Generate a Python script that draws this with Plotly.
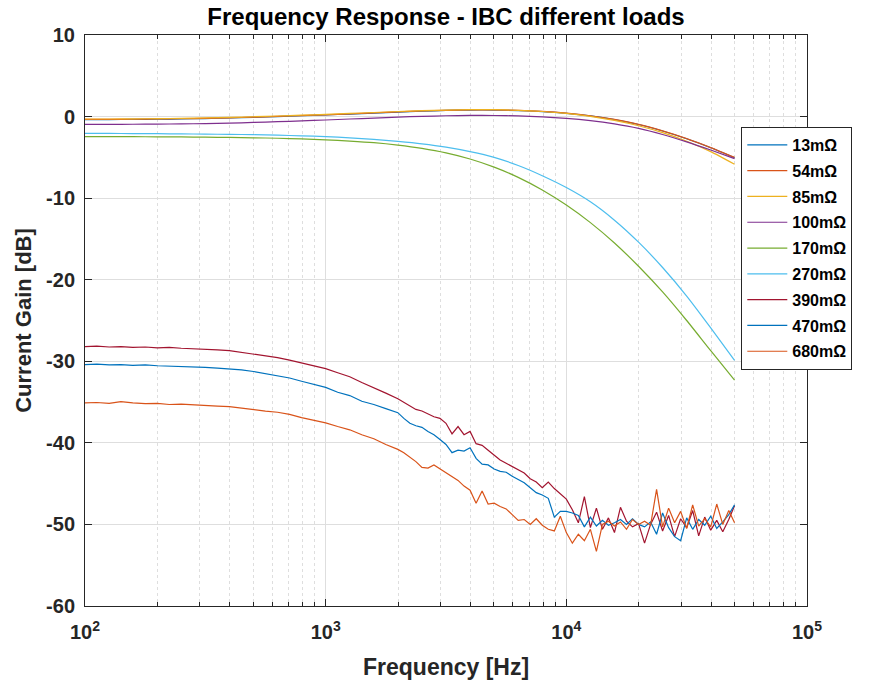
import plotly.graph_objects as go

# Frequency grid for the smooth (low-load-resistance) responses, Hz
SMOOTH_FREQ_HZ = [100, 126, 158, 200, 251, 316, 398, 501, 631, 794,
                  1000, 1259, 1585, 1995, 2512, 3162, 3981, 5012, 6310, 7943,
                  10000, 12589, 15849, 19953, 25119, 31623, 39811, 50000]

# Frequency grid for the noisy (high-load-resistance) responses, Hz
NOISY_FREQ_HZ = [100, 112, 126, 141, 158, 178, 200, 224, 251, 282,
                 316, 355, 398, 447, 501, 562, 631, 708, 794, 891,
                 1000, 1122, 1259, 1413, 1585, 1778,
                 1995, 2113, 2239, 2371, 2512, 2661, 2818, 2985, 3162, 3350,
                 3548, 3758, 3981, 4217, 4467, 4732, 5012, 5309, 5623, 5957,
                 6310, 6683, 7079, 7499, 7943, 8414, 8913, 9441, 10000, 10593,
                 11220, 11885, 12589, 13335, 14125, 14962, 15849, 16788, 17783, 18836,
                 19953, 21135, 22387, 23714, 25119, 26607, 28184, 29854, 31623, 33497,
                 35481, 37584, 39811, 42170, 44668, 47315, 50000]

# Current gain, dB
gain_13 = [-0.37, -0.37, -0.35, -0.32, -0.29, -0.24, -0.17, -0.09, 0.0, 0.1,
           0.2, 0.31, 0.43, 0.55, 0.66, 0.75, 0.8, 0.8, 0.74, 0.61,
           0.4, 0.08, -0.37, -0.97, -1.77, -2.72, -3.82, -5.05]
gain_54 = [-0.35, -0.35, -0.33, -0.3, -0.27, -0.22, -0.15, -0.07, 0.02, 0.12,
           0.22, 0.33, 0.45, 0.57, 0.68, 0.77, 0.82, 0.82, 0.76, 0.63,
           0.42, 0.1, -0.35, -0.95, -1.75, -2.7, -3.8, -5.0]
gain_85 = [-0.3, -0.3, -0.28, -0.25, -0.22, -0.17, -0.1, -0.02, 0.07, 0.17,
           0.27, 0.38, 0.5, 0.62, 0.72, 0.8, 0.85, 0.84, 0.77, 0.62,
           0.38, 0.03, -0.47, -1.12, -1.97, -3.02, -4.3, -5.85]
gain_100 = [-0.95, -0.95, -0.94, -0.92, -0.9, -0.86, -0.8, -0.72, -0.63, -0.53,
            -0.42, -0.3, -0.18, -0.07, 0.03, 0.1, 0.14, 0.13, 0.08, -0.03,
            -0.22, -0.5, -0.9, -1.45, -2.2, -3.1, -4.1, -5.15]
gain_170 = [-2.45, -2.46, -2.47, -2.48, -2.5, -2.53, -2.56, -2.6, -2.66, -2.74,
            -2.85, -3.0, -3.2, -3.5, -3.9, -4.45, -5.2, -6.2, -7.45, -9.0,
            -10.85, -13.0, -15.5, -18.35, -21.5, -25.0, -28.7, -32.3]
gain_270 = [-2.05, -2.07, -2.08, -2.1, -2.12, -2.15, -2.18, -2.22, -2.28, -2.36,
            -2.46, -2.6, -2.8, -3.05, -3.35, -3.75, -4.3, -5.0, -6.0, -7.25,
            -8.7, -10.45, -12.7, -15.4, -18.5, -22.0, -25.9, -29.9]
gain_390 = [-28.2, -28.15, -28.25, -28.2, -28.3, -28.25, -28.35, -28.3, -28.4, -28.45,
            -28.5, -28.6, -28.7, -28.9, -29.1, -29.35, -29.55, -29.85, -30.2, -30.5,
            -30.9, -31.4, -31.9, -32.6, -33.2, -33.9,
            -34.6, -35.0, -35.5, -35.9, -36.1, -36.5, -36.8, -37.0, -37.6, -38.9,
            -38.0, -39.0, -38.6, -40.1, -40.3, -40.9, -41.5, -42.1, -42.5, -42.9,
            -43.3, -43.7, -44.4, -44.8, -45.5, -44.8, -45.6, -46.2, -46.9, -48.2,
            -49.8, -46.6, -50.4, -48.0, -50.6, -49.2, -51.0, -47.9, -49.6, -50.3,
            -49.9, -52.3, -50.0, -48.5, -50.8, -48.9, -51.5, -49.3, -50.4, -48.3,
            -51.4, -49.1, -50.7, -49.5, -50.9, -49.4, -47.7]
gain_470 = [-30.4, -30.35, -30.45, -30.4, -30.5, -30.45, -30.55, -30.6, -30.6, -30.65,
            -30.75, -30.85, -30.95, -31.05, -31.25, -31.5, -31.75, -32.05, -32.45, -32.8,
            -33.2, -33.8, -34.2, -34.9, -35.3, -35.8,
            -36.3, -37.0, -37.6, -37.9, -38.1, -38.6, -39.0, -39.6, -40.2, -41.2,
            -40.9, -41.0, -40.6, -41.9, -42.6, -42.7, -43.2, -43.5, -43.6, -44.1,
            -44.5, -44.9, -45.5, -46.1, -46.4, -46.8, -49.1, -48.4, -48.4, -48.6,
            -48.9, -50.3, -49.1, -50.2, -49.5, -50.1, -49.8, -49.4, -50.0, -49.3,
            -50.0, -50.3, -49.7, -51.2, -48.6, -50.4, -51.5, -52.0, -49.2, -50.6,
            -49.4, -50.1, -49.0, -50.5, -49.7, -48.8, -47.6]
gain_680 = [-35.1, -35.05, -35.15, -34.95, -35.1, -35.2, -35.15, -35.3, -35.25, -35.35,
            -35.45, -35.5, -35.55, -35.75, -35.9, -36.1, -36.25, -36.5, -36.9, -37.2,
            -37.55, -38.0, -38.4, -39.0, -39.5, -40.2,
            -40.8, -41.2, -41.7, -42.3, -43.0, -43.1, -42.7, -43.2, -43.6, -44.1,
            -44.6, -45.3, -45.8, -47.4, -45.9, -47.5, -47.4, -47.8, -48.1, -48.8,
            -49.5, -49.4, -50.0, -49.3, -50.1, -50.6, -50.8, -49.0, -51.0, -52.3,
            -51.2, -52.0, -50.6, -53.3, -50.0, -49.6, -50.2, -49.7, -50.6, -49.4,
            -50.0, -49.6, -50.1, -45.7, -50.3, -48.0, -49.8, -48.4, -50.5, -47.6,
            -50.2, -49.3, -50.3, -47.5, -50.0, -48.3, -49.8]

LOAD_LABELS = ["13mΩ", "54mΩ", "85mΩ", "100mΩ", "170mΩ",
               "270mΩ", "390mΩ", "470mΩ", "680mΩ"]

Y_TICKS = [10, 0, -10, -20, -30, -40, -50, -60]
Y_TICK_TEXT = ["10", "0", "-10", "-20", "-30", "-40", "-50", "-60"]
X_TICKS = [100, 1000, 10000, 100000]
X_TICK_TEXT = ["10<sup>2</sup>", "10<sup>3</sup>", "10<sup>4</sup>", "10<sup>5</sup>"]

# MATLAB default line colour order (cycles after seven)
COLORS = ["#0072BD", "#D95319", "#EDB120", "#7E2F8E", "#77AC30",
          "#4DBEEE", "#A2142F", "#0072BD", "#D95319"]

series = [
    (SMOOTH_FREQ_HZ, gain_13),
    (SMOOTH_FREQ_HZ, gain_54),
    (SMOOTH_FREQ_HZ, gain_85),
    (SMOOTH_FREQ_HZ, gain_100),
    (SMOOTH_FREQ_HZ, gain_170),
    (SMOOTH_FREQ_HZ, gain_270),
    (NOISY_FREQ_HZ, gain_390),
    (NOISY_FREQ_HZ, gain_470),
    (NOISY_FREQ_HZ, gain_680),
]

fig = go.Figure()
for (freq, gain), label, color in zip(series, LOAD_LABELS, COLORS):
    smooth = freq is SMOOTH_FREQ_HZ
    fig.add_trace(go.Scatter(
        x=freq, y=gain, mode="lines", name=label, legendgroup=label,
        line=dict(color=color, width=1.2,
                  shape="spline" if smooth else "linear", smoothing=0.6),
    ))

AXIS_COLOR = "#262626"
GRID_COLOR = "#dedede"
FONT = "Liberation Sans, Arial, Helvetica, sans-serif"

minor_x = [m * 10 ** e for e in (2, 3, 4) for m in range(2, 10)]

fig.update_xaxes(
    type="log", range=[2, 5],
    tickmode="array", tickvals=X_TICKS, ticktext=X_TICK_TEXT,
    tickfont=dict(family=FONT, size=20, color=AXIS_COLOR, weight="bold"),
    ticklabelstandoff=8,
    ticks="inside", ticklen=7, tickcolor=AXIS_COLOR,
    showline=True, linecolor=AXIS_COLOR, linewidth=1, mirror="ticks",
    showgrid=True, gridcolor=GRID_COLOR, gridwidth=1,
    minor=dict(tickmode="array", tickvals=minor_x, ticks="inside", ticklen=4,
               tickcolor=AXIS_COLOR, showgrid=True, gridcolor=GRID_COLOR,
               griddash="dot", gridwidth=1),
    automargin=False,
    zeroline=False,
)
fig.update_yaxes(
    range=[-60, 10],
    tickmode="array", tickvals=Y_TICKS, ticktext=Y_TICK_TEXT,
    tickfont=dict(family=FONT, size=20, color=AXIS_COLOR, weight="bold"),
    ticklabelstandoff=5,
    ticks="inside", ticklen=7, tickcolor=AXIS_COLOR,
    showline=True, linecolor=AXIS_COLOR, linewidth=1, mirror="ticks",
    showgrid=True, gridcolor=GRID_COLOR, gridwidth=1,
    title=dict(text="Current Gain [dB]", standoff=8,
               font=dict(family=FONT, size=22, color=AXIS_COLOR, weight="bold")),
    zeroline=False,
)

# x-axis label placed as a paper annotation so the plot frame keeps its size
fig.add_annotation(
    text="Frequency [Hz]", xref="paper", yref="paper",
    x=0.5, xanchor="center", y=-0.107, yanchor="middle",
    showarrow=False,
    font=dict(family=FONT, size=23, color=AXIS_COLOR, weight="bold"),
)

fig.update_layout(
    width=889, height=682,
    margin=dict(l=85, r=82, t=35, b=76),
    paper_bgcolor="white", plot_bgcolor="white",
    title=dict(text="Frequency Response - IBC different loads",
               x=0.5, xref="paper", xanchor="center",
               y=1 - 17 / 682, yref="container", yanchor="middle",
               font=dict(family=FONT, size=24, color="#000000", weight="bold")),
    legend=dict(
        x=0.909, xanchor="left", y=0.839, yanchor="top",
        bgcolor="white", bordercolor=AXIS_COLOR, borderwidth=1,
        font=dict(family=FONT, size=16, color="#000000", weight="bold"),
        itemwidth=40, tracegroupgap=2,
    ),
    showlegend=True,
)

fig.write_html("out.html")
